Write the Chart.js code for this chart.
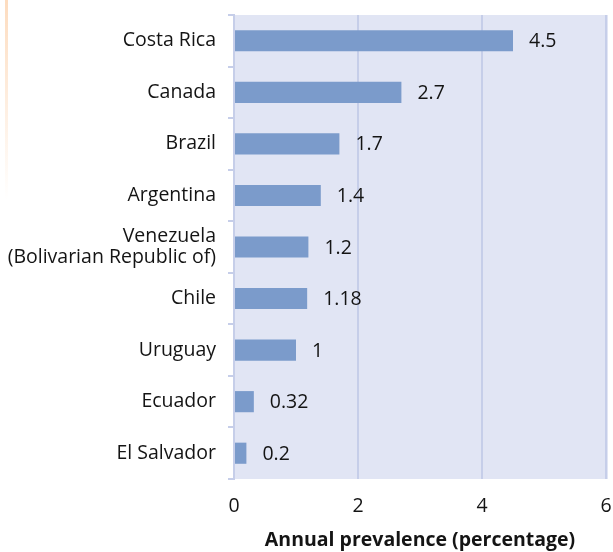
<!DOCTYPE html>
<html>
<head>
<meta charset="utf-8">
<script src="https://cdn.jsdelivr.net/npm/chart.js@4/dist/chart.umd.min.js"></script>
<style>
  html, body { margin: 0; padding: 0; background: #ffffff; }
  #wrap { position: relative; width: 613px; height: 552px; }
  #deco { position: absolute; left: 5px; top: 0; width: 3px; height: 200px;
          background: linear-gradient(#fddcbf, rgba(253,220,191,0)); }
  canvas { position: absolute; left: 0; top: 0; }
</style>
</head>
<body>
<div id="wrap">
  <div id="deco"></div>
  <canvas id="c" width="613" height="552"></canvas>
</div>
<script>
const countries = ['Costa Rica', 'Canada', 'Brazil', 'Argentina',
  ['Venezuela', '(Bolivarian Republic of)'], 'Chile', 'Uruguay', 'Ecuador', 'El Salvador'];
const prevalence = [4.5, 2.7, 1.7, 1.4, 1.2, 1.18, 1, 0.32, 0.2];
const valueLabels = ['4.5', '2.7', '1.7', '1.4', '1.2', '1.18', '1', '0.32', '0.2'];
const xTicks = [0, 2, 4, 6];
const axisTitle = 'Annual prevalence (percentage)';

const FONT = "'Open Sans', 'Noto Sans', sans-serif";
const TEXT = '#141414';
const GRID = '#c6cee9';

const plotBg = {
  id: 'plotBg',
  beforeDraw(chart) {
    const a = chart.chartArea, ctx = chart.ctx;
    ctx.save();
    ctx.fillStyle = '#e1e5f4';
    ctx.fillRect(a.left, a.top, a.right - a.left + 2, a.bottom - a.top);
    ctx.restore();
  }
};

const valueText = {
  id: 'valueText',
  afterDatasetsDraw(chart) {
    const ctx = chart.ctx;
    const meta = chart.getDatasetMeta(0);
    ctx.save();
    ctx.font = '19.5px ' + FONT;
    ctx.fillStyle = TEXT;
    ctx.textAlign = 'left';
    ctx.textBaseline = 'middle';
    meta.data.forEach((el, i) => {
      ctx.fillText(valueLabels[i], el.x + 16, el.y + 1);
    });
    ctx.restore();
  }
};

new Chart(document.getElementById('c'), {
  type: 'bar',
  data: {
    labels: countries,
    datasets: [{
      data: prevalence,
      backgroundColor: '#7b9bcb',
      borderWidth: 0,
      barPercentage: 0.41,
      categoryPercentage: 1.0
    }]
  },
  options: {
    indexAxis: 'y',
    responsive: false,
    animation: false,
    devicePixelRatio: 1,
    layout: { padding: { top: 15, right: 7, bottom: 0, left: 0 } },
    plugins: { legend: { display: false }, tooltip: { enabled: false } },
    scales: {
      x: {
        min: 0, max: 6,
        afterBuildTicks(scale) { scale.ticks = xTicks.map(v => ({ value: v })); },
        afterFit(scale) { scale.height = 73; scale.paddingLeft = 0; scale.paddingRight = 0; },
        grid: { color: GRID, lineWidth: 2, drawTicks: false },
        border: { display: false },
        ticks: { color: TEXT, font: { family: FONT, size: 19.5 }, padding: 16 },
        title: {
          display: true, text: axisTitle, color: TEXT,
          font: { family: FONT, size: 19.5, weight: 'bold' },
          padding: { top: 0, bottom: 0 }
        }
      },
      y: {
        afterFit(scale) { scale.width = 234; scale.paddingTop = 0; scale.paddingBottom = 0; },
        grid: { drawOnChartArea: false, drawTicks: true, tickLength: 6, color: GRID, lineWidth: 2, offset: true },
        border: { display: true, color: GRID, width: 2 },
        ticks: { color: TEXT, font: { family: FONT, size: 19.5, lineHeight: 1.08 }, padding: 12 }
      }
    }
  },
  plugins: [plotBg, valueText]
});
</script>
</body>
</html>
